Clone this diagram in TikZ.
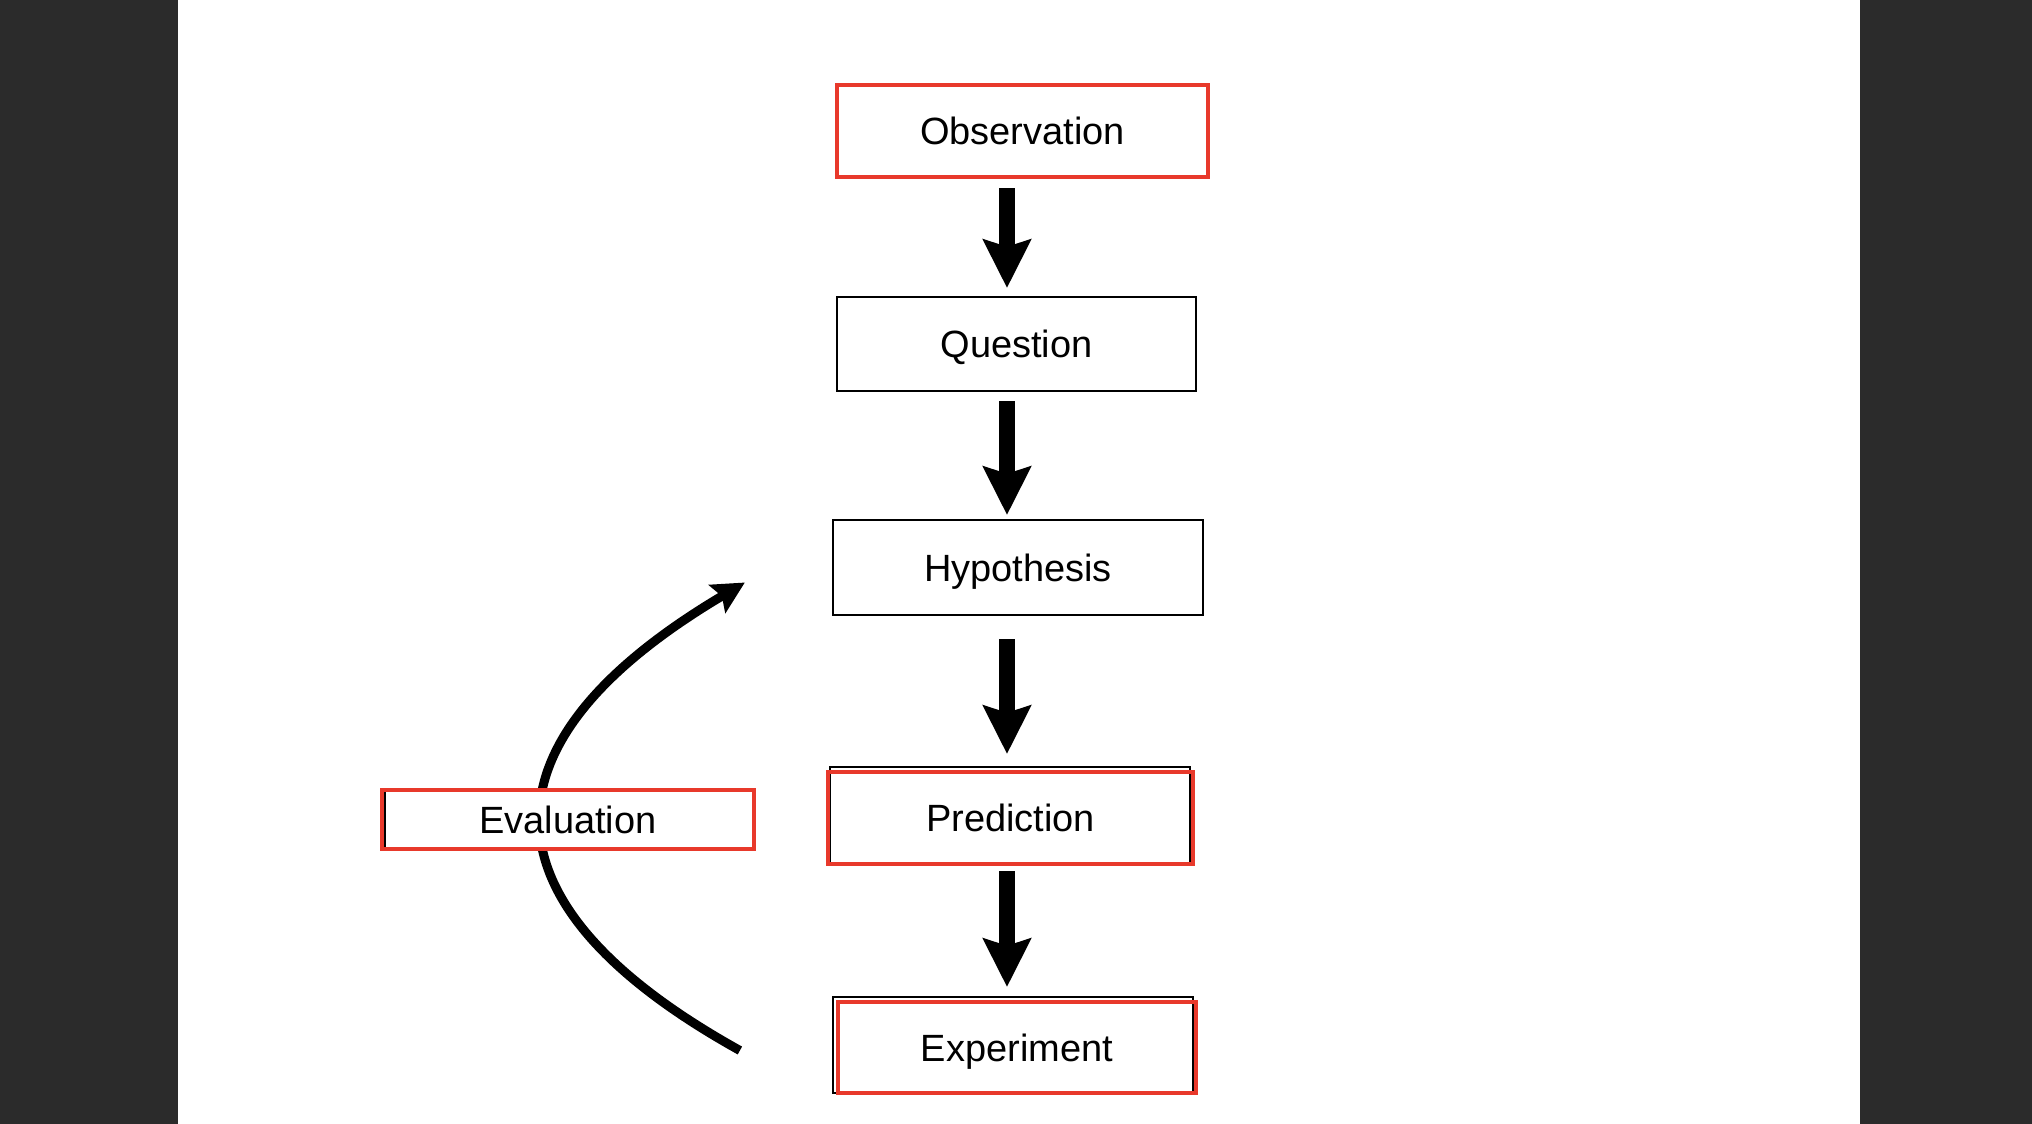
\documentclass[tikz,border=0pt]{standalone}
\usepackage{fontspec}
\setmainfont{Liberation Sans}
\usetikzlibrary{arrows.meta,calc}
\pgfdeclarelayer{behind}
\pgfdeclarelayer{ghost}
\pgfsetlayers{behind,ghost,main}
\definecolor{panelgray}{HTML}{2B2B2B}
\definecolor{boxred}{HTML}{E8392B}
\begin{document}
\begin{tikzpicture}[x=0.01cm,y=-0.01cm,
        stepbox/.style={draw=black,line width=0.57pt,inner sep=0pt,
            font=\fontsize{10.8}{13}\selectfont,text height=7.7pt,text depth=0pt},
        redbox/.style={stepbox,draw=boxred,line width=1.28pt},
        ghostline/.style={draw=black,line width=0.57pt},
        flowarrow/.style={line width=4.27pt,-{Stealth[length=13.7pt,width=13.4pt,inset=2pt]}},
        looparrow/.style={line width=2.56pt,-{Stealth[length=9.1pt,width=9.1pt,inset=1.5pt]}}]
    \useasboundingbox (0,0) rectangle (2032,1124);
    % boxes of the chain
    \node[redbox,minimum width=3.705cm,minimum height=0.915cm] (obs) at (1022.5,131) {Observation};
    \node[stepbox,minimum width=3.59cm,minimum height=0.94cm] (quest) at (1016.5,344) {Question};
    \node[stepbox,minimum width=3.70cm,minimum height=0.95cm] (hyp) at (1018,567.5) {Hypothesis};
    \node[redbox,minimum width=3.645cm,minimum height=0.915cm] (pred) at (1010.5,818) {Prediction};
    \node[redbox,minimum width=3.575cm,minimum height=0.905cm] (expt) at (1017,1047.5) {Experiment};
    \node[redbox,minimum width=3.715cm,minimum height=0.585cm] (eval) at (568,819.5) {Evaluation};
    \coordinate (spine) at (1007,0);
    \coordinate (loopin) at ($(expt.west)+(-96,3)$);
    \coordinate (loopout) at ($(hyp.west)+(-87,15)$);
    % thick arrows down the chain
    \foreach \a/\b/\s/\e in {obs/quest/9/8,quest/hyp/9/4,hyp/pred/23/16,pred/expt/5/13}
        {
            \draw[flowarrow] ($(\a.south -| spine)+(0,\s)$) -- ($(\b.north -| spine)+(0,-\e)$);
        }
    \begin{pgfonlayer}{behind}
        \fill[panelgray] (0,0) rectangle (2032,1124);
        \fill[white] (178,0) rectangle (1860,1124);
        \draw[looparrow] (loopin) .. controls +(-270,-150) and +(-265,157) .. (loopout);
        \fill[white] (eval.north west) rectangle (eval.south east);
    \end{pgfonlayer}
    % old black frames showing under the red ones
    \begin{pgfonlayer}{ghost}
        \draw[ghostline] ([shift={(4,-3)}]pred.north west) rectangle ([shift={(-5,-2.5)}]pred.south east);
        \draw[ghostline] ([shift={(-3,-3)}]expt.north west) rectangle ([shift={(-5,-2.5)}]expt.south east);
        \draw[ghostline] ([shift={(5.5,2.25)}]eval.north west) rectangle ([shift={(-2.25,-2.25)}]eval.south east);
    \end{pgfonlayer}
\end{tikzpicture}
\end{document}
